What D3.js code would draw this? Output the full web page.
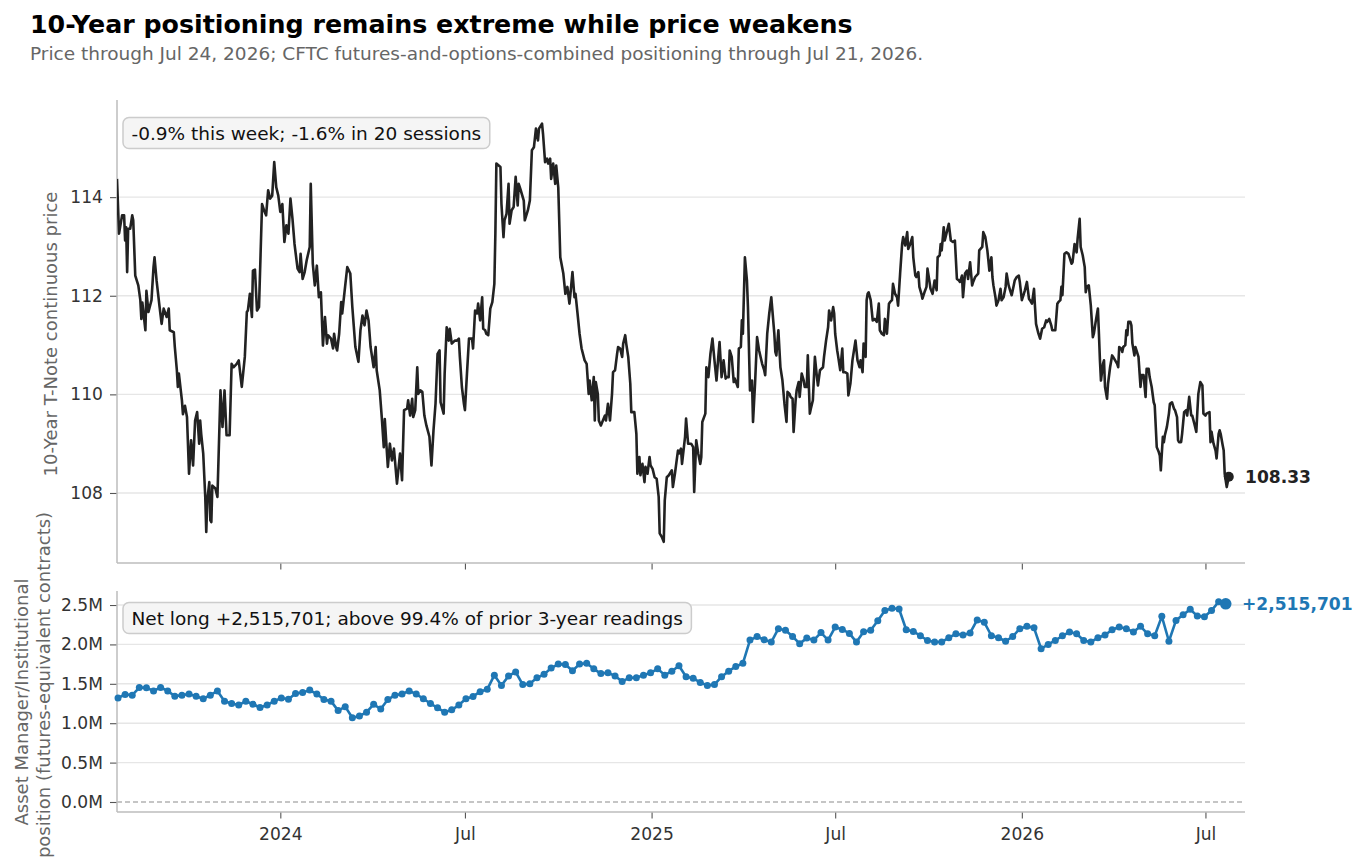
<!DOCTYPE html>
<html><head><meta charset="utf-8">
<script src="https://cdn.jsdelivr.net/npm/d3@7"></script>
<style>
body{margin:0;background:#fff;}
svg text{font-family:"DejaVu Sans",sans-serif;}
</style></head>
<body><svg id="chart" width="1367" height="858"></svg>
<script>
// ---------- DATA ----------
const titleText = "10-Year positioning remains extreme while price weakens";
const subtitleText = "Price through Jul 24, 2026; CFTC futures-and-options-combined positioning through Jul 21, 2026.";
const priceStart = "2023-07-24";      // day 0 of price series
const priceEndLabel = "108.33";
const priceNote = "-0.9% this week; -1.6% in 20 sessions";
// [days since priceStart, 10-Year T-Note continuous price]
const pricePoints = [
[0,114.37],[2,113.26],[5,113.63],[7,113.63],[8,113.12],[9,113.39],[10,112.48],[11,113.36],[13,113.36],[15,113.63],
[16,113.53],[18,112.41],[21,112.21],[23,111.91],[24,111.53],[25,111.86],[28,111.30],[29,112.10],[31,111.67],[34,111.91],
[36,112.58],[37,112.78],[39,112.31],[42,111.77],[44,111.43],[46,111.74],[49,111.57],[51,111.74],[52,111.30],[56,111.26],
[57,110.96],[59,110.49],[60,110.15],[61,110.42],[64,109.88],[65,109.60],[67,109.77],[69,109.54],[71,108.39],[73,109.07],
[75,108.56],[77,109.47],[79,109.64],[81,109.00],[82,109.47],[83,109.20],[85,108.80],[87,107.92],[88,107.21],[89,107.85],
[91,108.22],[92,107.45],[93,107.41],[94,108.15],[97,108.09],[99,107.92],[102,110.08],[104,109.34],[106,110.08],[108,109.17],
[111,109.17],[113,110.62],[115,110.55],[118,110.62],[120,110.69],[123,110.15],[126,110.76],[128,111.67],[129,111.70],[131,112.04],
[133,111.57],[134,112.51],[136,112.53],[138,111.70],[140,111.77],[143,113.86],[145,113.73],[147,113.63],[149,114.14],[151,113.97],
[153,114.03],[155,114.71],[157,114.20],[159,114.03],[161,113.70],[163,113.86],[165,113.09],[167,113.43],[169,113.26],[171,113.97],
[173,113.56],[175,113.05],[178,112.55],[180,112.48],[181,112.85],[183,112.34],[185,112.48],[187,112.72],[190,112.99],[191,114.27],
[193,112.65],[195,112.21],[197,112.61],[199,111.97],[201,112.07],[203,110.99],[205,111.57],[207,111.03],[208,111.20],[211,111.13],
[213,110.93],[214,111.23],[216,110.96],[217,110.89],[219,111.23],[221,111.87],[222,111.64],[225,112.21],[227,112.58],[230,112.45],
[232,111.77],[235,110.96],[238,110.66],[240,111.30],[242,111.60],[244,111.40],[246,111.70],[248,111.50],[250,110.96],[253,110.55],
[255,110.96],[256,110.49],[259,110.08],[261,109.54],[263,108.93],[264,109.50],[267,108.53],[269,109.00],[271,108.66],[273,108.90],
[276,108.19],[279,108.80],[281,108.26],[283,109.68],[286,109.71],[287,109.88],[289,109.57],[291,109.91],[292,109.54],[294,109.68],
[296,110.55],[297,110.01],[299,110.08],[301,110.05],[303,109.57],[305,109.37],[308,109.14],[310,108.56],[312,109.27],[314,109.81],
[316,110.82],[318,110.89],[319,109.84],[322,109.61],[323,110.42],[325,111.36],[327,111.09],[328,111.33],[330,111.03],[333,111.09],
[335,111.09],[337,111.13],[338,110.76],[340,110.15],[342,109.81],[343,109.68],[345,110.42],[347,111.13],[350,111.13],[351,110.93],
[353,111.70],[355,111.64],[356,111.84],[358,111.50],[360,111.97],[361,111.33],[363,111.30],[364,111.23],[366,111.20],[368,111.74],
[370,111.87],[372,112.24],[373,113.26],[374,114.68],[378,114.61],[379,113.86],[381,113.19],[382,113.53],[384,113.66],[386,114.27],
[387,113.46],[389,113.73],[391,113.80],[393,114.41],[395,113.83],[396,114.27],[398,114.14],[401,113.93],[402,113.53],[405,113.73],
[407,113.93],[409,114.95],[411,115.01],[413,115.39],[415,115.15],[416,115.39],[419,115.49],[420,115.28],[422,114.71],[424,114.78],
[425,114.68],[427,114.78],[428,114.37],[430,114.68],[432,114.27],[433,114.64],[435,114.20],[437,112.78],[440,112.45],[442,112.04],
[444,112.18],[446,111.84],[447,112.04],[449,112.48],[451,111.97],[452,112.04],[454,111.64],[456,111.23],[458,110.93],[461,110.69],
[463,110.62],[465,110.01],[466,110.28],[468,109.88],[470,110.35],[471,109.47],[472,110.25],[474,110.01],[475,109.47],[477,109.37],
[479,109.47],[481,109.57],[482,109.47],[484,109.81],[486,109.47],[488,110.01],[489,110.45],[491,110.49],[493,110.82],[494,110.96],
[496,110.93],[498,110.76],[499,111.03],[501,111.20],[502,111.03],[504,110.76],[506,110.22],[507,109.64],[510,109.64],[512,109.20],
[513,108.39],[515,108.73],[516,108.36],[518,108.59],[520,108.22],[521,108.53],[523,108.39],[525,108.73],[526,108.56],[528,108.49],
[530,108.32],[532,108.29],[534,107.92],[535,107.18],[537,107.11],[539,107.01],[540,107.85],[542,108.32],[544,108.36],[547,108.46],
[548,108.12],[550,108.39],[553,108.86],[554,108.80],[556,108.90],[557,108.59],[560,109.14],[561,109.51],[563,109.00],[566,109.00],
[568,108.93],[569,108.02],[571,109.07],[573,108.80],[575,108.59],[576,108.73],[577,109.44],[580,109.61],[581,110.55],[583,110.35],
[585,110.82],[587,111.13],[589,110.69],[591,110.28],[593,110.82],[594,111.06],[596,110.35],[598,110.69],[600,110.32],[601,110.35],
[603,110.35],[604,110.89],[606,110.76],[608,110.25],[609,110.32],[612,110.15],[613,110.93],[615,110.96],[616,111.50],[617,111.23],
[619,112.78],[621,112.31],[622,111.77],[624,110.08],[626,110.28],[627,109.44],[629,110.22],[631,111.16],[633,110.89],[636,110.62],
[638,110.49],[639,110.39],[641,111.23],[643,111.64],[645,111.97],[648,111.23],[649,110.86],[650,110.79],[652,111.30],[654,110.55],
[656,110.28],[658,109.81],[660,109.44],[661,110.05],[663,110.01],[664,109.95],[666,109.91],[667,109.24],[669,109.88],[670,110.08],
[672,110.25],[673,109.95],[675,110.42],[677,110.28],[678,110.15],[680,110.15],[681,110.79],[683,109.61],[684,109.71],[686,109.88],
[688,110.76],[690,110.35],[691,110.18],[693,110.49],[696,110.55],[697,110.76],[699,111.09],[701,111.36],[702,111.70],[704,111.50],
[706,111.77],[707,111.64],[708,111.23],[710,110.89],[711,110.76],[713,110.49],[715,110.93],[716,110.45],[718,110.45],[720,110.42],
[721,109.98],[723,110.22],[725,110.69],[728,111.09],[730,110.69],[732,110.55],[733,110.69],[735,110.45],[736,111.03],[738,110.76],
[739,111.91],[740,112.04],[741,112.07],[743,111.91],[745,111.50],[747,111.53],[749,111.47],[751,111.84],[752,111.30],[754,111.23],
[756,111.20],[757,111.53],[759,111.23],[761,111.84],[762,111.87],[764,111.91],[765,112.24],[767,112.04],[769,111.97],[770,111.80],
[772,112.45],[774,113.05],[775,113.19],[777,113.02],[779,113.29],[780,112.95],[782,113.05],[784,113.19],[785,112.78],[787,112.41],
[788,112.38],[790,112.48],[791,112.18],[793,112.04],[794,111.94],[796,112.07],[798,112.18],[799,112.55],[801,112.28],[802,112.14],
[804,112.04],[806,112.31],[808,112.11],[809,112.78],[811,112.82],[812,113.05],[813,112.92],[815,113.39],[816,113.12],[818,113.29],
[820,113.46],[822,113.12],[824,113.09],[826,113.12],[828,112.34],[830,112.31],[831,112.28],[833,112.41],[834,111.97],[836,112.45],
[838,112.51],[839,112.34],[841,112.68],[843,112.21],[844,112.28],[846,112.38],[849,112.45],[850,112.92],[853,112.99],[854,113.29],
[856,113.19],[858,112.92],[859,112.72],[860,112.51],[862,112.78],[863,112.38],[864,112.21],[866,111.97],[867,111.80],[869,111.91],
[871,112.14],[872,111.91],[874,111.97],[876,112.18],[877,112.45],[879,112.21],[880,112.14],[882,112.01],[884,112.21],[885,112.31],
[887,112.38],[889,112.41],[890,112.28],[892,111.91],[894,112.04],[895,112.11],[897,112.28],[899,111.94],[900,111.91],[902,111.84],
[904,112.14],[905,111.77],[906,111.43],[908,111.26],[910,111.13],[912,111.33],[914,111.36],[916,111.50],[917,111.47],[919,111.53],
[921,111.40],[922,111.30],[925,111.30],[927,111.84],[928,111.87],[930,111.91],[931,112.18],[932,112.01],[934,112.85],[936,112.88],
[938,112.85],[941,112.65],[942,112.68],[944,113.05],[946,112.88],[947,113.16],[949,113.56],[950,112.99],[952,112.82],[954,112.58],
[955,112.07],[956,112.18],[958,112.21],[960,111.80],[962,111.16],[963,111.23],[965,111.50],[967,111.74],[968,111.23],[969,110.69],
[970,110.28],[972,110.62],[973,110.69],[974,110.15],[976,109.91],[977,110.22],[979,110.55],[981,110.79],[982,110.76],[984,110.69],
[986,110.62],[987,110.55],[988,110.96],[990,110.93],[991,110.86],[992,110.96],[994,111.00],[995,111.30],[996,111.20],[997,111.47],
[999,111.47],[1000,111.40],[1001,111.03],[1003,110.79],[1004,110.96],[1005,110.89],[1007,110.76],[1009,110.15],[1010,110.39],[1012,110.39],
[1014,109.95],[1015,110.52],[1017,110.52],[1018,110.35],[1020,110.15],[1022,109.84],[1023,109.78],[1025,108.93],[1027,108.83],[1028,108.76],
[1029,108.46],[1031,109.14],[1032,109.03],[1033,109.17],[1035,109.34],[1037,109.61],[1038,109.81],[1040,109.84],[1042,109.71],[1043,109.68],
[1045,109.54],[1046,109.07],[1047,109.03],[1049,109.03],[1050,109.20],[1052,109.64],[1054,109.68],[1055,109.57],[1057,109.95],[1059,109.57],
[1060,109.57],[1062,109.41],[1064,109.24],[1065,109.64],[1066,110.01],[1068,110.25],[1070,110.18],[1071,109.61],[1073,109.57],[1074,109.61],
[1077,109.64],[1078,109.03],[1079,109.24],[1081,109.00],[1083,108.86],[1084,108.70],[1086,109.20],[1087,109.27],[1088,109.20],[1090,108.97],
[1091,108.86],[1092,108.39],[1094,108.12],[1096,108.33]
];
const posStart = "2023-07-25";   // first weekly CFTC report (Tuesdays)
const posEndLabel = "+2,515,701";
const posNote = "Net long +2,515,701; above 99.4% of prior 3-year readings";
// weekly Asset Manager/Institutional net position, contracts
const posValues = [
1320000,1365000,1356000,1453000,1450000,1410000,1453000,1410000,1343000,1356000,
1370000,1343000,1310000,1356000,1410000,1280000,1250000,1230000,1280000,1240000,
1200000,1230000,1280000,1320000,1305000,1377000,1390000,1420000,1370000,1300000,
1280000,1160000,1210000,1070000,1090000,1140000,1240000,1180000,1300000,1356000,
1370000,1410000,1370000,1310000,1250000,1195000,1140000,1170000,1230000,1310000,
1340000,1400000,1430000,1610000,1480000,1600000,1650000,1490000,1500000,1576000,
1620000,1700000,1750000,1745000,1665000,1750000,1760000,1690000,1630000,1640000,
1600000,1530000,1576000,1576000,1610000,1640000,1690000,1610000,1660000,1730000,
1590000,1570000,1517000,1480000,1490000,1590000,1660000,1720000,1760000,2055000,
2100000,2060000,2030000,2200000,2180000,2100000,2010000,2080000,2055000,2150000,
2055000,2220000,2190000,2140000,2030000,2160000,2180000,2300000,2430000,2460000,
2450000,2186000,2165000,2110000,2050000,2030000,2030000,2085000,2135000,2120000,
2145000,2310000,2280000,2110000,2085000,2040000,2100000,2200000,2230000,2210000,
1945000,2000000,2050000,2110000,2157000,2135000,2050000,2030000,2085000,2120000,
2186000,2220000,2200000,2157000,2230000,2135000,2110000,2356000,2040000,2305000,
2377000,2445000,2360000,2350000,2430000,2540000,2515701
];
const xDomain = ["2023-07-24","2026-08-09"];
const xTickDates = ["2024-01-01","2024-07-01","2025-01-01","2025-07-01","2026-01-01","2026-07-01"];
const xTickLabels = ["2024","Jul","2025","Jul","2026","Jul"];
const priceTicks = [108,110,112,114];
const posTicks = [0,500000,1000000,1500000,2000000,2500000];
const posTickLabels = ["0.0M","0.5M","1.0M","1.5M","2.0M","2.5M"];
const priceYLabel = "10-Year T-Note continuous price";
const posYLabel = ["Asset Manager/Institutional","position (futures-equivalent contracts)"];

// ---------- CHART ----------
const svg = d3.select("#chart");
const parse = d3.utcParse("%Y-%m-%d");
const L = 117, R = 1245;
const top1 = 100, bot1 = 563, top2 = 591, bot2 = 812;
const BLUE = "#1f77b4", SPINE = "#bdbdbd", GRID = "#e6e6e6";
const FS_TICK = 17.1, FS_LAB = 18.5, FS_YLAB = 18;

const x = d3.scaleUtc().domain(xDomain.map(parse)).range([L, R]);
const yP = d3.scaleLinear().domain([106.58, 115.97]).range([bot1, top1]);
const yQ = d3.scaleLinear().domain([-127000, 2678000]).range([bot2, top2]);

const p0 = parse(priceStart), q0 = parse(posStart);
const price = pricePoints.map(([d, v]) => ({date: d3.utcDay.offset(p0, d), v}));
const pos = posValues.map((v, i) => ({date: d3.utcWeek.offset(q0, i), v}));

// title
svg.append("text").attr("x", 30).attr("y", 33).attr("font-size", 25.3).attr("font-weight", "bold")
  .attr("fill", "#000").text(titleText);
svg.append("text").attr("x", 30).attr("y", 60).attr("font-size", FS_LAB).attr("fill", "#666").text(subtitleText);

// clip paths
const defs = svg.append("defs");
defs.append("clipPath").attr("id", "c1").append("rect").attr("x", L).attr("y", top1).attr("width", R - L).attr("height", bot1 - top1);
defs.append("clipPath").attr("id", "c2").append("rect").attr("x", L).attr("y", top2).attr("width", R - L).attr("height", bot2 - top2);

// gridlines
svg.append("g").selectAll("line").data(priceTicks).join("line")
  .attr("x1", L).attr("x2", R).attr("y1", d => yP(d)).attr("y2", d => yP(d))
  .attr("stroke", GRID).attr("stroke-width", 1.4);
svg.append("g").selectAll("line").data(posTicks.filter(d => d !== 0)).join("line")
  .attr("x1", L).attr("x2", R).attr("y1", d => yQ(d)).attr("y2", d => yQ(d))
  .attr("stroke", GRID).attr("stroke-width", 1.4);
// zero line
svg.append("line").attr("x1", L).attr("x2", R).attr("y1", yQ(0)).attr("y2", yQ(0))
  .attr("stroke", "#8c8c8c").attr("stroke-width", 1.1).attr("stroke-dasharray", "5,3");

function styleAxis(g) {
  g.select(".domain").remove();
  g.selectAll(".tick line").attr("stroke", "#555").attr("stroke-width", 1.1);
  g.selectAll(".tick text").attr("fill", "#333").attr("font-size", FS_TICK)
    .attr("font-family", "DejaVu Sans");
}
// y axes
svg.append("g").attr("transform", `translate(${L},0)`)
  .call(d3.axisLeft(yP).tickValues(priceTicks).tickFormat(d3.format("d")).tickSize(7).tickPadding(7))
  .call(styleAxis);
svg.append("g").attr("transform", `translate(${L},0)`)
  .call(d3.axisLeft(yQ).tickValues(posTicks).tickFormat((d, i) => posTickLabels[i]).tickSize(7).tickPadding(7))
  .call(styleAxis);
// x axes
const xt = xTickDates.map(parse);
svg.append("g").attr("transform", `translate(0,${bot1})`)
  .call(d3.axisBottom(x).tickValues(xt).tickFormat("").tickSize(6.5))
  .call(styleAxis);
svg.append("g").attr("transform", `translate(0,${bot2})`)
  .call(d3.axisBottom(x).tickValues(xt).tickFormat((d, i) => xTickLabels[i]).tickSize(6.5).tickPadding(9.5))
  .call(styleAxis);

// spines
[[top1, bot1], [top2, bot2]].forEach(([t, b]) => {
  svg.append("line").attr("x1", L).attr("x2", L).attr("y1", t).attr("y2", b).attr("stroke", SPINE).attr("stroke-width", 1.5);
  svg.append("line").attr("x1", L).attr("x2", R).attr("y1", b).attr("y2", b).attr("stroke", SPINE).attr("stroke-width", 1.5);
});

// y labels
svg.append("text").attr("transform", `translate(57,334) rotate(-90)`).attr("text-anchor", "middle")
  .attr("font-size", FS_YLAB).attr("fill", "#666").text(priceYLabel);
svg.append("text").attr("transform", `translate(28,702) rotate(-90)`).attr("text-anchor", "middle")
  .attr("font-size", FS_YLAB).attr("fill", "#666").text(posYLabel[0]);
svg.append("text").attr("transform", `translate(49.5,685) rotate(-90)`).attr("text-anchor", "middle")
  .attr("font-size", FS_YLAB).attr("fill", "#666").text(posYLabel[1]);

// price line
svg.append("path").datum(price).attr("clip-path", "url(#c1)")
  .attr("fill", "none").attr("stroke", "#222").attr("stroke-width", 2.6).attr("stroke-linejoin", "round")
  .attr("d", d3.line().x(d => x(d.date)).y(d => yP(d.v)));
const pl = price[price.length - 1];
svg.append("circle").attr("cx", x(pl.date)).attr("cy", yP(pl.v)).attr("r", 5).attr("fill", "#222");
svg.append("text").attr("x", 1245).attr("y", yP(pl.v)).attr("dy", "0.36em").attr("font-size", FS_TICK)
  .attr("font-weight", "bold").attr("fill", "#222").text(priceEndLabel);

// positioning line
svg.append("path").datum(pos).attr("clip-path", "url(#c2)")
  .attr("fill", "none").attr("stroke", BLUE).attr("stroke-width", 2.6).attr("stroke-linejoin", "round")
  .attr("d", d3.line().x(d => x(d.date)).y(d => yQ(d.v)));
svg.append("g").selectAll("circle").data(pos).join("circle")
  .attr("cx", d => x(d.date)).attr("cy", d => yQ(d.v)).attr("r", 3.5).attr("fill", BLUE);
const ql = pos[pos.length - 1];
svg.append("circle").attr("cx", x(ql.date)).attr("cy", yQ(ql.v)).attr("r", 5.8).attr("fill", BLUE);
svg.append("text").attr("x", 1242).attr("y", yQ(ql.v)).attr("dy", "0.36em").attr("font-size", FS_TICK)
  .attr("font-weight", "bold").attr("fill", BLUE).text(posEndLabel);

// annotation boxes
function note(txt, tx, ty) {
  const g = svg.append("g");
  const t = g.append("text").attr("x", tx).attr("y", ty).attr("font-size", FS_LAB).attr("fill", "#111").text(txt);
  const bb = t.node().getBBox();
  g.insert("rect", "text").attr("x", bb.x - 8.5).attr("y", bb.y - 5)
    .attr("width", bb.width + 17).attr("height", bb.height + 10).attr("rx", 6)
    .attr("fill", "#f5f5f5").attr("stroke", "#cccccc").attr("stroke-width", 1.5);
}
note(priceNote, 131.5, 139.5);
note(posNote, 131.5, 624.5);
</script>
</body></html>
